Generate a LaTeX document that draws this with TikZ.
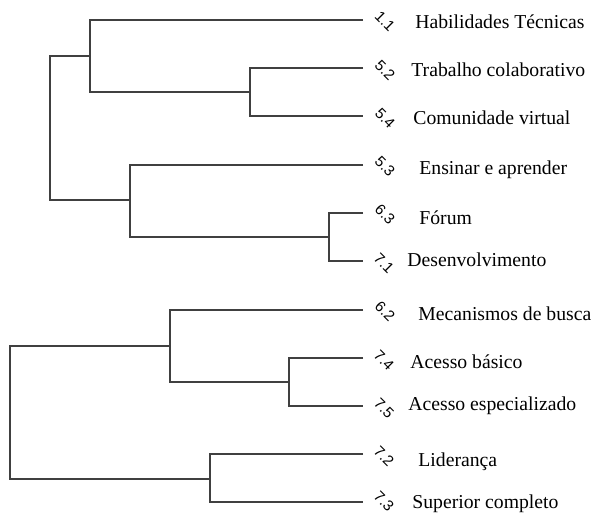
\documentclass[tikz,border=0pt]{standalone}
\usepackage{fontspec}
\setmainfont{Liberation Serif}
\newfontfamily\codefont{Liberation Sans}
\usepackage{tikz}
\usetikzlibrary{positioning}
\tikzset{
    branch/.style={draw=black!75, line width=0.6pt},
    code/.style={font=\codefont\fontsize{7.5}{8}\selectfont, rotate=-45, inner sep=0pt},
    leaftext/.style={font=\fontsize{9.85}{11}\selectfont, anchor=west, inner sep=0pt}
}

\begin{document}
\begin{tikzpicture}[x=0.5pt, y=-0.5pt]
    \useasboundingbox (0,0) rectangle (596,513);

    % Leaf ends
    \coordinate (l11) at (363,20);
    \coordinate (l52) at (363,68);
    \coordinate (l54) at (363,116);
    \coordinate (l53) at (363,165);
    \coordinate (l63) at (363,213);
    \coordinate (l71) at (363,261);
    \coordinate (l62) at (363,310);
    \coordinate (l74) at (363,358);
    \coordinate (l75) at (363,406);
    \coordinate (l72) at (363,454);
    \coordinate (l73) at (363,502);

    % Cluster joins
    \coordinate (c1) at (250,92);
    \coordinate (c2) at (90,56);
    \coordinate (c3) at (329,237);
    \coordinate (c4) at (130,200);
    \coordinate (c5) at (50,128);
    \coordinate (c6) at (289,382);
    \coordinate (c7) at (170,346);
    \coordinate (c8) at (210,479);
    \coordinate (c9) at (10,412);

    % Upper tree
    \draw[branch] (l52) -| (c1) |- (l54);
    \draw[branch] (l11) -| (c2) |- (c1);
    \draw[branch] (l63) -| (c3) |- (l71);
    \draw[branch] (l53) -| (c4) |- (c3);
    \draw[branch] (c2) -| (c5) |- (c4);

    % Lower tree
    \draw[branch] (l74) -| (c6) |- (l75);
    \draw[branch] (l62) -| (c7) |- (c6);
    \draw[branch] (l72) -| (c8) |- (l73);
    \draw[branch] (c7) -| (c9) |- (c8);

    % Codes
    \node[code] (n11) at (385,21) {1.1};
    \node[code] (n52) at (385,70) {5.2};
    \node[code] (n54) at (385,118) {5.4};
    \node[code] (n53) at (385,166) {5.3};
    \node[code] (n63) at (385,214) {6.3};
    \node[code] (n71) at (384,263) {7.1};
    \node[code] (n62) at (385,311) {6.2};
    \node[code] (n74) at (384,360) {7.4};
    \node[code] (n75) at (384,408) {7.5};
    \node[code] (n72) at (384,456) {7.2};
    \node[code] (n73) at (384,501) {7.3};

    % Names
    \node[leaftext] (t11) at (415,22) {Habilidades Técnicas};
    \node[leaftext] (t52) at (411,70) {Trabalho colaborativo};
    \node[leaftext] (t54) at (413,118) {Comunidade virtual};
    \node[leaftext] (t53) at (419,170) {Ensinar e aprender};
    \node[leaftext] (t63) at (419,218) {Fórum};
    \node[leaftext] (t71) at (407,260) {Desenvolvimento};
    \node[leaftext] (t62) at (418,314) {Mecanismos de busca};
    \node[leaftext] (t74) at (410,362) {Acesso básico};
    \node[leaftext] (t75) at (408,406) {Acesso especializado};
    \node[leaftext] (t72) at (418,462) {Liderança};
    \node[leaftext] (t73) at (412,504) {Superior completo};
\end{tikzpicture}
\end{document}
